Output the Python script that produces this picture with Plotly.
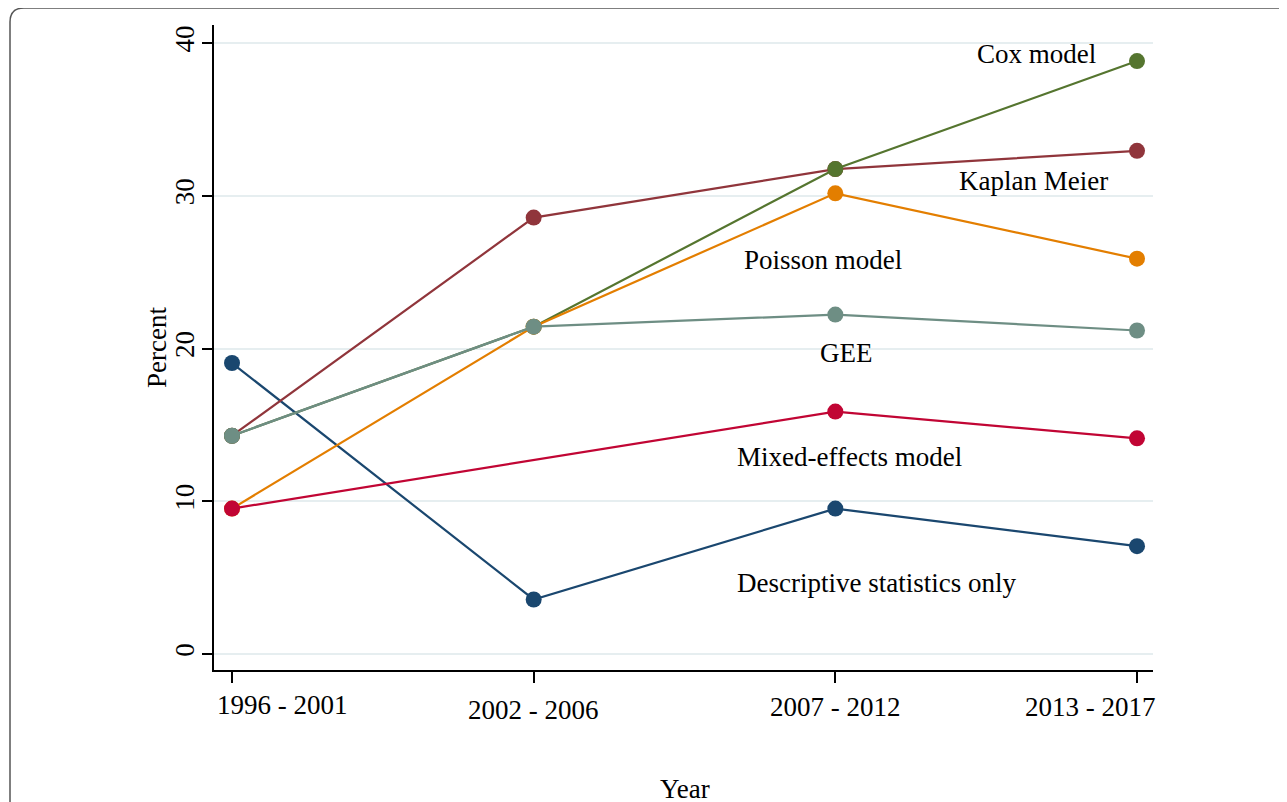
import plotly.graph_objects as go

periods = ["1996 - 2001", "2002 - 2006", "2007 - 2012", "2013 - 2017"]
descriptive = [19.05, 3.57, 9.52, 7.06]
kaplan_meier = [14.29, 28.57, 31.75, 32.94]
cox = [14.29, 21.43, 31.75, 38.82]
poisson = [9.52, 21.43, 30.16, 25.88]
gee = [14.29, 21.43, 22.22, 21.18]
mixed = [9.52, None, 15.87, 14.12]

series_names = ["Descriptive statistics only", "Kaplan Meier", "Cox model",
                "Poisson model", "GEE", "Mixed-effects model"]
series_values = [descriptive, kaplan_meier, cox, poisson, gee, mixed]
colors = ["#1a476f", "#90353b", "#55752f", "#e37e00", "#6e8e84", "#c10534"]

# label anchor positions (category index, percent)
label_x = [1.667, 2.403, 2.463, 1.690, 1.942, 1.667]
label_y = [4.65, 31.0, 39.3, 25.8, 19.7, 12.9]

FONT = "Liberation Serif"
FS = 27

xpos = list(range(len(periods)))

fig = go.Figure()
for name, vals, col in zip(series_names, series_values, colors):
    fig.add_trace(go.Scatter(
        x=xpos, y=vals, mode="lines+markers", name=name,
        line=dict(color=col, width=2.2),
        marker=dict(color=col, size=16, line=dict(width=0)),
        connectgaps=True, showlegend=False,
        cliponaxis=False,
    ))

for name, lx, ly in zip(series_names, label_x, label_y):
    fig.add_annotation(x=lx, y=ly, text=name, showarrow=False,
                       xanchor="left", yanchor="middle",
                       font=dict(family=FONT, size=FS, color="black"))

# page has an 8px body margin; work in screen pixels then shift
OFF = 8
W, H = 1287, 802
L, R, T, B = 214 - OFF, 1153 - OFF, 25 - OFF, 670 - OFF
pw, ph = R - L, B - T

def px(xs):
    return (xs - OFF - L) / pw

def py(ys):
    return (B - (ys - OFF)) / ph

# x tick labels kept inside the plot width (Stata style), staggered slightly
tick_anchor = ["left", "center", "center", "right"]
tick_shift = [-17, 0, 0, 21]
tick_ypix = [705, 710, 707, 707]
for i, lab in enumerate(periods):
    fig.add_annotation(x=xpos[i], y=py(tick_ypix[i]), xref="x", yref="paper",
                       text=lab, showarrow=False, xanchor=tick_anchor[i],
                       yanchor="middle", xshift=tick_shift[i],
                       font=dict(family=FONT, size=FS, color="black"))

# rounded outer frame (clipped at right and bottom)
r = 14
x0, y0 = 10, 8
x1, y1 = 1320, 840
path = (f"M {px(x0)},{py(y1)} L {px(x0)},{py(y0 + r)} "
        f"Q {px(x0)},{py(y0)} {px(x0 + r)},{py(y0)} "
        f"L {px(x1)},{py(y0)}")
fig.add_shape(type="path", path=path, xref="paper", yref="paper",
              line=dict(color="#555555", width=1.5), layer="above")

# axis titles
fig.add_annotation(x=px(685), y=py(789), xref="paper", yref="paper",
                   text="Year", showarrow=False, xanchor="center", yanchor="middle",
                   font=dict(family=FONT, size=FS, color="black"))
fig.add_annotation(x=px(157), y=py(348), xref="paper", yref="paper",
                   text="Percent", showarrow=False, textangle=-90,
                   xanchor="center", yanchor="middle",
                   font=dict(family=FONT, size=FS, color="black"))

fig.update_layout(
    width=W, height=H,
    margin=dict(l=L, r=W - R, t=T, b=H - B, pad=0),
    paper_bgcolor="white", plot_bgcolor="white",
    font=dict(family=FONT, size=FS, color="black"),
    xaxis=dict(
        range=[-0.0597, 3.053], tickmode="array", tickvals=xpos,
        showticklabels=False,
        showline=True, linecolor="black", linewidth=1.5,
        ticks="outside", ticklen=11, tickwidth=1.5, tickcolor="black",
        showgrid=False, zeroline=False,
    ),
    yaxis=dict(
        range=[-1.047, 41.18], tickmode="array", tickvals=[0, 10, 20, 30, 40],
        showline=True, linecolor="black", linewidth=1.5,
        ticks="outside", ticklen=10, tickwidth=1.5, tickcolor="black",
        showgrid=True, gridcolor="#e6eef0", gridwidth=2, zeroline=False,
        tickangle=-90, ticklabelstandoff=-3,
        tickfont=dict(family=FONT, size=FS),
    ),
)

fig.write_html("out.html")
